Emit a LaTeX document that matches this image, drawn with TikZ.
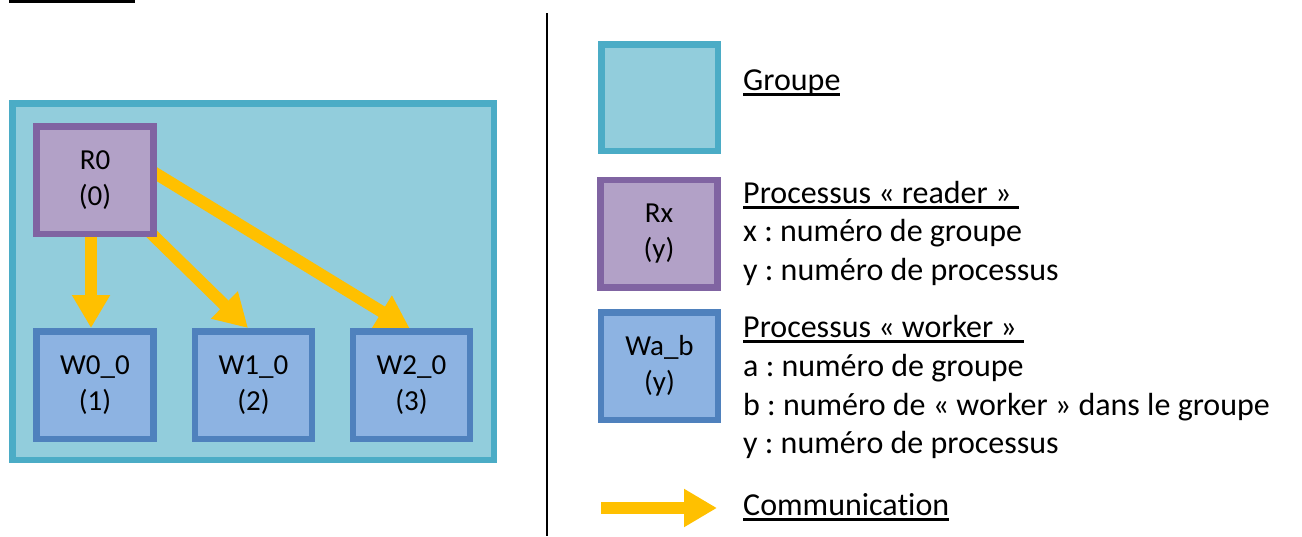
\documentclass[tikz,border=0pt]{standalone}
\usepackage{fontspec}
\setmainfont{Carlito}[Ligatures={NoCommon}]
\usetikzlibrary{arrows.meta}
\frenchspacing
\pgfdeclarelayer{bg}
\pgfdeclarelayer{mid}
\pgfsetlayers{bg,mid,main}
\definecolor{grpfill}{HTML}{92CDDC}
\definecolor{grpline}{HTML}{4BACC6}
\definecolor{rdfill}{HTML}{B2A1C7}
\definecolor{rdline}{HTML}{8064A2}
\definecolor{wkfill}{HTML}{8DB3E2}
\definecolor{wkline}{HTML}{4F81BD}
\definecolor{commcol}{HTML}{FFC000}
% underlined text with a fixed rule just below the baseline
\newcommand\ulined[1]{\setbox0\hbox{#1}\rlap{\rule[-6pt]{\wd0}{2.8pt}}\box0}
\tikzset{
  boxfont/.style={font=\fontsize{29}{35.5}\selectfont},
  procbox/.style={draw, line width=6.5pt, minimum width=117pt, minimum height=107.5pt,
    inner sep=0pt, align=center, boxfont},
  reader/.style={procbox, fill=rdfill, draw=rdline},
  worker/.style={procbox, fill=wkfill, draw=wkline},
  groupbox/.style={draw=grpline, fill=grpfill, line width=6.5pt, inner sep=0pt},
  legtext/.style={anchor=base west, inner sep=0pt, font=\frenchspacing\fontsize{32}{38.5}\selectfont},
  commarrow/.style={draw=commcol, line width=12pt, -{Triangle[width=36pt,length=33pt]}},
}
\begin{document}
\begin{tikzpicture}[x=1pt,y=-1pt]
\useasboundingbox (0,0) rectangle (1302,536);

% underline of the title above
\fill (9,0) rectangle (135,3);

% group with one reader and three workers
\begin{pgfonlayer}{bg}
  \node[groupbox, minimum width=481.5pt, minimum height=356.5pt] (grp) at (253,281.5) {};
\end{pgfonlayer}
\node[reader] (R0) at (95,180) {R0\\(0)};
\node[worker] (W0) at (95,385) {W0\_0\\(1)};
\node[worker] (W1) at (253.5,385) {W1\_0\\(2)};
\node[worker] (W2) at (411.5,385) {W2\_0\\(3)};

\begin{pgfonlayer}{mid}
  \draw[commarrow] ([xshift=-4pt]R0.south) -- ([xshift=-4pt]W0.north);
  \draw[commarrow] ([shift={(-7,-5)}]R0.south east) -- ([xshift=-5.5pt]W1.north);
  \draw[commarrow] ([shift={(-10,-12)}]R0.east) -- ([shift={(-1.5,1)}]W2.north);
\end{pgfonlayer}

% separator
\coordinate (sepT) at (547,13);
\coordinate (sepB) at (547,536);
\draw[line width=2pt] (sepT) -- (sepB);

% legend
\node[groupbox, minimum width=116.5pt, minimum height=106.5pt] (lg) at (659.5,97.5) {};
\node[legtext] (tg) at (743,90) {\ulined{Groupe}};

\node[reader] (lr) at (659,233.5) {Rx\\(y)};
\node[legtext] (tr1) at (743,203) {\ulined{Processus «~reader~»\ }};
\node[legtext] (tr2) at (743,241.5) {x : numéro de groupe};
\node[legtext] (tr3) at (743,280) {y : numéro de processus};

\node[worker] (lw) at (659.5,366) {Wa\_b\\(y)};
\node[legtext] (tw1) at (743,337) {\ulined{Processus «~worker~»\ }};
\node[legtext] (tw2) at (743,376) {a : numéro de groupe};
\node[legtext] (tw3) at (743,415) {b : numéro de «~worker~» dans le groupe};
\node[legtext] (tw4) at (743,453) {y : numéro de processus};

\coordinate (ca) at (601,508);
\coordinate (cb) at (717,508);
\draw[commarrow] (ca) -- (cb);
\node[legtext] (tc) at (743,515) {\ulined{Communication}};
\end{tikzpicture}
\end{document}
